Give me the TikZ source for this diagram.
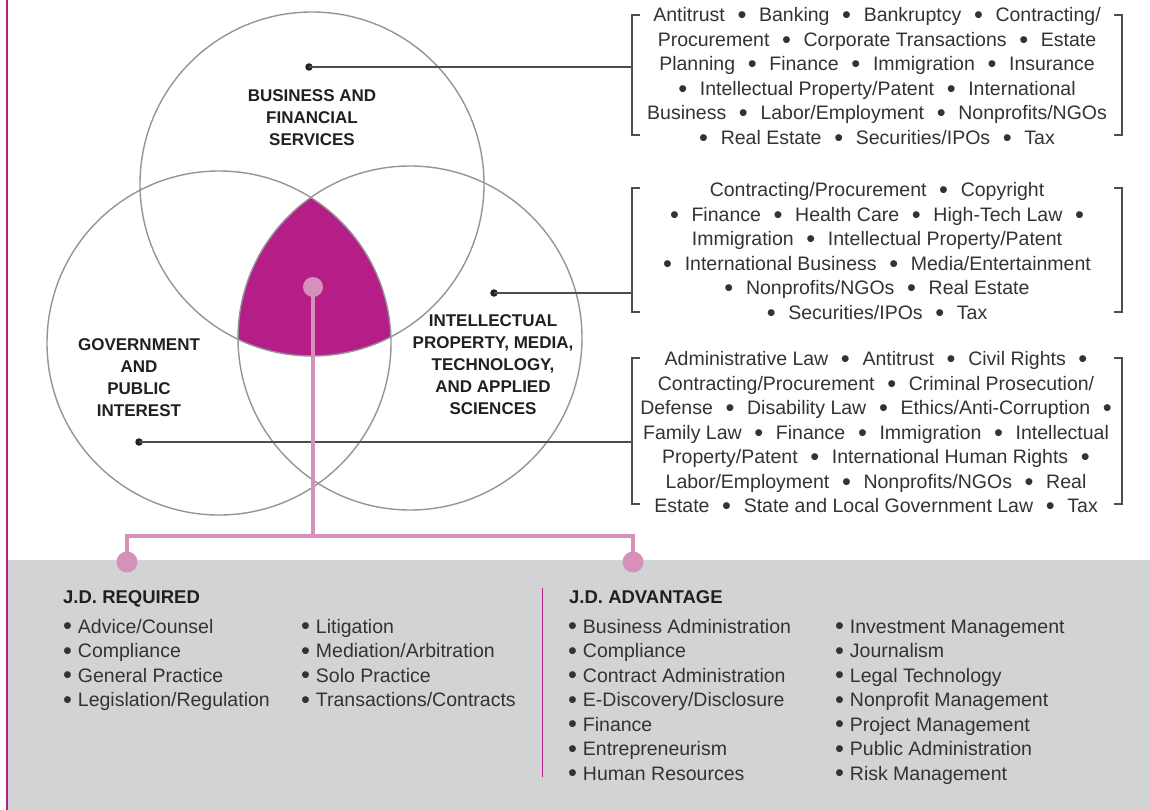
\documentclass[tikz,border=0pt]{standalone}
\usepackage{fontspec}
\setmainfont{Liberation Sans}
\definecolor{mag}{HTML}{B51E86}
\definecolor{pinkc}{HTML}{D591BB}
\definecolor{grayfill}{HTML}{D1D3D4}
\definecolor{circ}{HTML}{939598}
\definecolor{ink}{HTML}{231F20}
\definecolor{txt}{HTML}{333333}
\definecolor{lin}{HTML}{4D4D4F}
\newcommand{\bigbul}{\raisebox{-0.1em}{\scalebox{1.3}{\textbullet}}}
\newcommand{\bu}{\hspace{0.65em}\bigbul\hspace{0.65em}}
\newcommand{\bl}{\bigbul\hspace{0.65em}}
\newcommand{\br}{\hspace{0.65em}\bigbul}
\begin{document}
\begin{tikzpicture}[x=1pt,y=-1pt,
  circlab/.style={font=\bfseries\fontsize{17}{22}\selectfont, text=ink, align=center, inner sep=0pt},
  listtxt/.style={font=\fontsize{19.5}{24.5}\selectfont, text=txt, align=center, inner sep=0pt},
  bracketline/.style={draw=lin, line width=1.1pt},
  connector/.style={draw=lin, line width=1.2pt},
  dotb/.style={circle, fill=ink, inner sep=0pt, minimum size=7.5pt},
  pinkline/.style={draw=pinkc, line width=4.5pt, line join=miter},
  pinkdot/.style={circle, fill=pinkc, inner sep=0pt, minimum size=21pt},
  ringline/.style={draw=circ, line width=1.4pt},
  item/.style={font=\fontsize{19.5}{24.5}\selectfont, text=txt, inner sep=0pt, anchor=base west},
  heading/.style={font=\bfseries\fontsize{18.5}{22}\selectfont, text=ink, inner sep=0pt, anchor=base west}
]
\useasboundingbox (0,0) rectangle (1150,810);
\fill[white] (0,0) rectangle (1150,810);
% gray panel and magenta border
\fill[grayfill] (8,560) rectangle (1150,810);
\draw[mag, line width=2.5pt] (7,0) -- (7,810);

% circles
\coordinate (cb) at (312,184);
\coordinate (cg) at (219,343);
\coordinate (ci) at (410,338);
\begin{scope}
  \clip (cb) circle[radius=172pt];
  \clip (cg) circle[radius=172pt];
  \fill[mag] (ci) circle[radius=172pt];
\end{scope}
\draw[ringline] (cb) circle[radius=172pt];
\draw[ringline] (cg) circle[radius=172pt];
\draw[ringline] (ci) circle[radius=172pt];

% circle labels
\node[circlab] (lb) at (312,118) {BUSINESS AND\\FINANCIAL\\SERVICES};
\node[circlab] (lg) at (139,378) {GOVERNMENT\\AND\\PUBLIC\\INTEREST};
\node[circlab] (li) at (493,365) {INTELLECTUAL\\PROPERTY, MEDIA,\\TECHNOLOGY,\\AND APPLIED\\SCIENCES};

% text blocks
\node[listtxt] (t1) at (877,77) {Antitrust\bu Banking\bu Bankruptcy\bu Contracting/\\
Procurement\bu Corporate Transactions\bu Estate\\
Planning\bu Finance\bu Immigration\bu Insurance\\
\bl Intellectual Property/Patent\bu International\\
Business\bu Labor/Employment\bu Nonprofits/NGOs\\
\bl Real Estate\bu Securities/IPOs\bu Tax};
\node[listtxt] (t2) at (877,252) {Contracting/Procurement\bu Copyright\\
\bl Finance\bu Health Care\bu High-Tech Law\br\\
Immigration\bu Intellectual Property/Patent\\
\bl International Business\bu Media/Entertainment\\
\bl Nonprofits/NGOs\bu Real Estate\\
\bl Securities/IPOs\bu Tax};
\node[listtxt] (t3) at (876,433) {Administrative Law\bu Antitrust\bu Civil Rights\br\\
Contracting/Procurement\bu Criminal Prosecution/\\
Defense\bu Disability Law\bu Ethics/Anti-Corruption\br\\
Family Law\bu Finance\bu Immigration\bu Intellectual\\
Property/Patent\bu International Human Rights\br\\
Labor/Employment\bu Nonprofits/NGOs\bu Real\\
Estate\bu State and Local Government Law\bu Tax};

% brackets
\draw[bracketline] (640,15) -- (632,15) -- (632,135) -- (640,135);
\draw[bracketline] (1114,15) -- (1122,15) -- (1122,135) -- (1114,135);
\draw[bracketline] (640,188) -- (632,188) -- (632,312) -- (640,312);
\draw[bracketline] (1114,188) -- (1122,188) -- (1122,312) -- (1114,312);
\draw[bracketline] (640,358) -- (632,358) -- (632,504) -- (640,504);
\draw[bracketline] (1114,358) -- (1122,358) -- (1122,504) -- (1114,504);

% connectors
\coordinate (b1) at (632,67);
\coordinate (b2) at (632,293);
\coordinate (b3) at (632,442);
\node[dotb] (d1) at (309,67) {};
\node[dotb] (d2) at (494,293) {};
\node[dotb] (d3) at (139,442) {};
\draw[connector] (d1.center) -- (b1);
\draw[connector] (d2.center) -- (b2);
\draw[connector] (d3.center) -- (b3);

% pink tree
\coordinate (p0c) at (313,287);
\coordinate (p1c) at (127,562);
\coordinate (p2c) at (633,562);
\coordinate (hj) at (313,536);
\draw[pinkline] (p0c) -- (hj);
\draw[pinkline] (p1c) |- (hj) -| (p2c);
\node[pinkdot, minimum size=20pt] (p0) at (p0c) {};
\node[pinkdot] (p1) at (p1c) {};
\node[pinkdot] (p2) at (p2c) {};

% divider
\draw[mag, line width=1pt] (542,588) -- (542,777);

% headings
\node[heading] (h1) at (63,603.5) {J.D. REQUIRED};
\node[heading] (h2) at (569,603.5) {J.D. ADVANTAGE};

% lists
\foreach \t [count=\i] in {Advice/Counsel, Compliance, General Practice, Legislation/Regulation}
  \node[item] (ra\i) at (63,{633+24.5*(\i-1)}) {\bigbul\hspace{0.3em}\t};
\foreach \t [count=\i] in {Litigation, Mediation/Arbitration, Solo Practice, Transactions/Contracts}
  \node[item] (rb\i) at (301,{633+24.5*(\i-1)}) {\bigbul\hspace{0.3em}\t};
\foreach \t [count=\i] in {Business Administration, Compliance, Contract Administration, E-Discovery/Disclosure, Finance, Entrepreneurism, Human Resources}
  \node[item] (aa\i) at (568,{633+24.5*(\i-1)}) {\bigbul\hspace{0.3em}\t};
\foreach \t [count=\i] in {Investment Management, Journalism, Legal Technology, Nonprofit Management, Project Management, Public Administration, Risk Management}
  \node[item] (ab\i) at (835,{633+24.5*(\i-1)}) {\bigbul\hspace{0.3em}\t};
\end{tikzpicture}
\end{document}
